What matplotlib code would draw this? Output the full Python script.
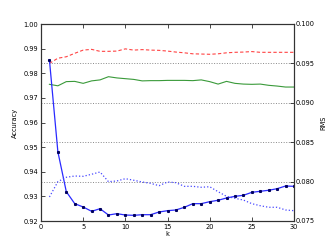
import matplotlib
matplotlib.use("Agg")
import matplotlib.pyplot as plt

k = list(range(1, 31))
acc_red = [0.9840, 0.9861, 0.9867, 0.9881, 0.9894, 0.9897, 0.9889, 0.9889, 0.9890, 0.9899,
           0.9894, 0.9896, 0.9894, 0.9893, 0.9890, 0.9886, 0.9883, 0.9879, 0.9878, 0.9877,
           0.9879, 0.9883, 0.9885, 0.9886, 0.9888, 0.9885, 0.9885, 0.9885, 0.9885, 0.9885]
acc_green = [0.9755, 0.9749, 0.9766, 0.9767, 0.9759, 0.9769, 0.9773, 0.9786, 0.9781, 0.9778,
             0.9775, 0.9769, 0.9770, 0.9770, 0.9771, 0.9771, 0.9771, 0.9770, 0.9773, 0.9766,
             0.9756, 0.9767, 0.9759, 0.9756, 0.9755, 0.9756, 0.9751, 0.9748, 0.9744, 0.9744]
rms_solid = [0.09543, 0.08379, 0.07872, 0.07720, 0.07678, 0.07623, 0.07656, 0.07576, 0.07593, 0.07576,
             0.07572, 0.07580, 0.07580, 0.07614, 0.07631, 0.07640, 0.07674, 0.07720, 0.07720, 0.07745,
             0.07763, 0.07792, 0.07813, 0.07826, 0.07864, 0.07877, 0.07890, 0.07910, 0.07944, 0.07940]
rms_dotted = [0.07805, 0.07999, 0.08055, 0.08071, 0.08067, 0.08093, 0.08122, 0.07999, 0.08008, 0.08037,
              0.08017, 0.07995, 0.07978, 0.07948, 0.07995, 0.07986, 0.07940, 0.07940, 0.07928, 0.07935,
              0.07872, 0.07813, 0.07788, 0.07766, 0.07720, 0.07694, 0.07674, 0.07674, 0.07640, 0.07631]

acc_ticks = [0.92, 0.93, 0.94, 0.95, 0.96, 0.97, 0.98, 0.99, 1.00]
rms_ticks = [0.075, 0.080, 0.085, 0.090, 0.095, 0.100]
k_ticks = [0, 5, 10, 15, 20, 25, 30]

fs = 4.8
fig = plt.figure(figsize=(3.27, 2.47), dpi=100)
ax = fig.add_axes([41/327, (247-221)/247, 253/327, 197/247])
ax2 = ax.twinx()

ax.plot(k, acc_red, color='#ff4444', linestyle='--', linewidth=0.8, dashes=(3, 2))
ax.plot(k, acc_green, color='#3a9a3a', linestyle='-', linewidth=0.8)
ax2.plot(k, rms_solid, color='#2a2aff', linestyle='-', linewidth=0.9,
         marker='s', markersize=1.2, markerfacecolor='#000060', markeredgecolor='#000060')
ax2.plot(k, rms_dotted, color='#4848ff', linestyle=':', linewidth=0.9)

ax.set_xlim(0, 30)
ax.set_ylim(0.92, 1.00)
ax2.set_ylim(0.075, 0.100)
ax.set_xticks(k_ticks)
ax.set_yticks(acc_ticks)
ax2.set_yticks(rms_ticks)
ax.set_yticklabels([f"{v:.2f}" for v in acc_ticks], fontsize=fs)
ax2.set_yticklabels([f"{v:.3f}" for v in rms_ticks], fontsize=fs)
ax.set_xticklabels([str(v) for v in k_ticks], fontsize=fs)

ax2.grid(axis='y', color='#888888', linestyle=':', linewidth=0.7)
ax.tick_params(direction='in', length=3, width=0.5, top=True, pad=2)
ax.tick_params(axis='x', pad=2)
ax2.tick_params(direction='in', length=3, width=0.5, pad=1.5)

for a in (ax, ax2):
    for s in a.spines.values():
        s.set_color('#333333')
        s.set_linewidth(0.8)

ax.set_xlabel('k', fontsize=fs, labelpad=1)
ax.set_ylabel('Accuracy', fontsize=fs, labelpad=4)
ax2.set_ylabel('RMS', fontsize=fs, labelpad=4)

fig.savefig('out.png', dpi=100)
